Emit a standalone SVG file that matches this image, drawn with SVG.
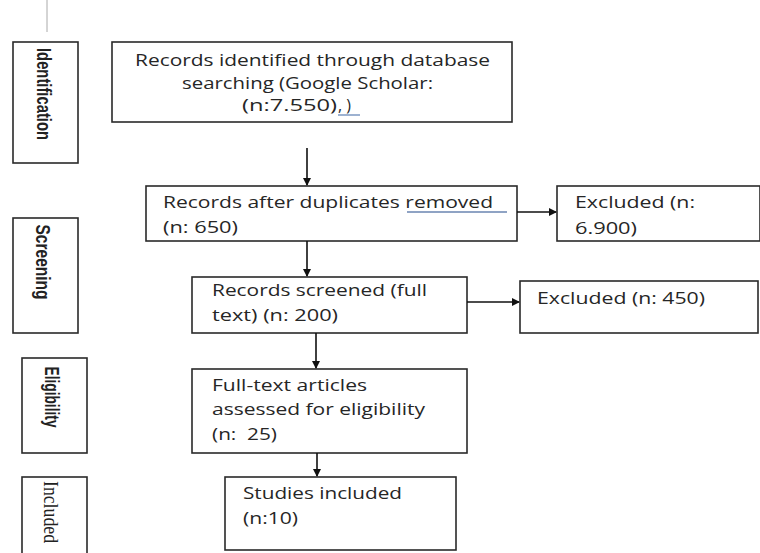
<svg xmlns="http://www.w3.org/2000/svg" width="760" height="553" viewBox="0 0 760 553">
<defs>
<marker id="ah" markerWidth="8" markerHeight="8" refX="7" refY="4" orient="auto" markerUnits="userSpaceOnUse">
<path d="M0,0 L8,4 L0,8 Z" fill="#111"/>
</marker>
<style>
.box{fill:#fff;stroke:#2a2a2a;stroke-width:1.6}
.t{font-family:"Open Sans","Liberation Sans",sans-serif;font-size:16px;fill:#262626}
.side{font-family:"Liberation Sans Narrow","Liberation Sans",sans-serif;font-size:21px;font-weight:bold;fill:#222}
.sider{font-family:"Liberation Serif",serif;font-size:21px;fill:#222}
.c{stroke:#111;stroke-width:1.6;fill:none;marker-end:url(#ah)}
</style>
</defs>
<rect width="760" height="553" fill="#fff"/>
<line x1="47" y1="0" x2="47" y2="32" stroke="#aaa" stroke-width="1"/>

<g id="side-identification">
<rect class="box" x="13" y="42" width="65" height="121"/>
<text class="side" transform="translate(44,94) rotate(90)" text-anchor="middle" dy="0.35em" textLength="92" lengthAdjust="spacingAndGlyphs">Identification</text>
</g>
<g id="side-screening">
<rect class="box" x="13" y="218" width="65" height="115"/>
<text class="side" transform="translate(43,262) rotate(90)" text-anchor="middle" dy="0.35em" textLength="75" lengthAdjust="spacingAndGlyphs">Screening</text>
</g>
<g id="side-eligibility">
<rect class="box" x="22" y="358" width="65" height="95"/>
<text class="side" transform="translate(52,397) rotate(90)" text-anchor="middle" dy="0.35em" textLength="61" lengthAdjust="spacingAndGlyphs">Eligibility</text>
</g>
<g id="side-included">
<rect class="box" x="22" y="477" width="65" height="90"/>
<text class="sider" transform="translate(51,512) rotate(90)" text-anchor="middle" dy="0.35em" textLength="62" lengthAdjust="spacingAndGlyphs">Included</text>
</g>

<g id="identified">
<rect class="box" x="112" y="42" width="400" height="80"/>
<text class="t" x="135" y="66" textLength="355" lengthAdjust="spacingAndGlyphs">Records identified through database</text>
<text class="t" x="182" y="89" textLength="251" lengthAdjust="spacingAndGlyphs">searching (Google Scholar:</text>
<text class="t" x="242" y="111" textLength="95" lengthAdjust="spacingAndGlyphs">(n:7.550)</text>
<text class="t" x="338" y="111">, )</text>
<line x1="338" y1="115" x2="360" y2="115" stroke="#5b7fb3" stroke-width="1.2"/>
</g>

<g id="after-duplicates">
<rect class="box" x="146" y="186" width="371" height="55"/>
<text class="t" x="163" y="208" textLength="330" lengthAdjust="spacingAndGlyphs">Records after duplicates removed</text>
<line x1="407" y1="212" x2="507" y2="212" stroke="#6a84b0" stroke-width="1.3"/>
<text class="t" x="163" y="233" textLength="75" lengthAdjust="spacingAndGlyphs">(n: 650)</text>
</g>

<g id="excluded-1">
<rect class="box" x="557" y="186" width="203" height="55"/>
<text class="t" x="575" y="208" textLength="120" lengthAdjust="spacingAndGlyphs">Excluded (n:</text>
<text class="t" x="575" y="234" textLength="62" lengthAdjust="spacingAndGlyphs">6.900)</text>
</g>

<g id="screened">
<rect class="box" x="192" y="277" width="275" height="56"/>
<text class="t" x="212" y="296" textLength="215" lengthAdjust="spacingAndGlyphs">Records screened (full</text>
<text class="t" x="212" y="321" textLength="126" lengthAdjust="spacingAndGlyphs">text) (n: 200)</text>
</g>

<g id="excluded-2">
<rect class="box" x="520" y="281" width="238" height="52"/>
<text class="t" x="537" y="304" textLength="168" lengthAdjust="spacingAndGlyphs">Excluded (n: 450)</text>
</g>

<g id="eligibility">
<rect class="box" x="192" y="369" width="275" height="84"/>
<text class="t" x="212" y="391" textLength="155" lengthAdjust="spacingAndGlyphs">Full-text articles</text>
<text class="t" x="212" y="415" textLength="213" lengthAdjust="spacingAndGlyphs">assessed for eligibility</text>
<text class="t" x="212" y="440" textLength="65" lengthAdjust="spacingAndGlyphs" xml:space="preserve">(n:  25)</text>
</g>

<g id="included">
<rect class="box" x="225" y="477" width="231" height="73"/>
<text class="t" x="243" y="499" textLength="159" lengthAdjust="spacingAndGlyphs">Studies included</text>
<text class="t" x="243" y="524" textLength="55" lengthAdjust="spacingAndGlyphs">(n:10)</text>
</g>

<g id="connectors">
<line class="c" x1="307" y1="148" x2="307" y2="185"/>
<line class="c" x1="307" y1="241" x2="307" y2="276"/>
<line class="c" x1="517" y1="212" x2="556" y2="212"/>
<line class="c" x1="467" y1="302" x2="519" y2="302"/>
<line class="c" x1="316" y1="333" x2="316" y2="368"/>
<line class="c" x1="317" y1="453" x2="317" y2="476"/>
</g>
</svg>
